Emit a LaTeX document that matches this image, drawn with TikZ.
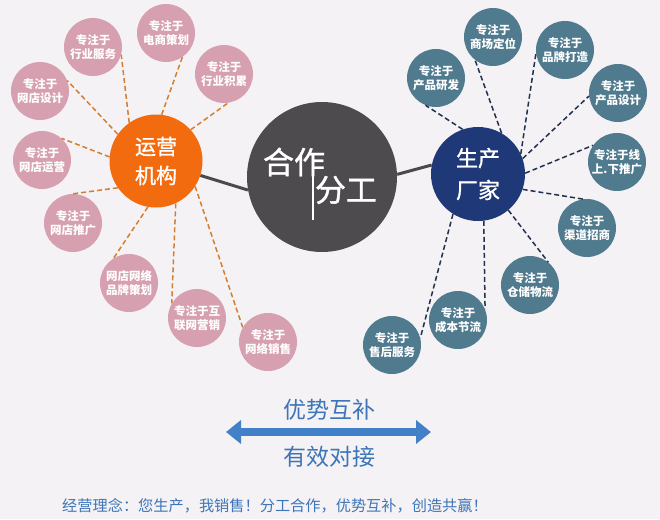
\documentclass[tikz,border=0pt]{standalone}
\usepackage{fontspec}
\setmainfont{Noto Sans CJK SC}
\newfontfamily\medfont[FakeBold=1.2]{Noto Sans CJK SC}
\usetikzlibrary{arrows.meta}
\definecolor{bgc}{RGB}{244,242,244}
\definecolor{pinkc}{RGB}{214,160,176}
\definecolor{tealc}{RGB}{80,122,142}
\definecolor{orgc}{RGB}{242,107,15}
\definecolor{navyc}{RGB}{30,56,120}
\definecolor{midc}{RGB}{77,75,77}
\definecolor{odashc}{RGB}{212,126,50}
\definecolor{ndashc}{RGB}{34,48,82}
\definecolor{linec}{RGB}{74,74,74}
\definecolor{bluec}{RGB}{61,117,184}
\definecolor{arrowc}{RGB}{66,128,200}
\begin{document}
\begin{tikzpicture}[x=1pt,y=-1pt,
  sat/.style={circle, minimum size=58pt, inner sep=0pt, text=white,
    font=\bfseries\fontsize{11.5}{14.5}\selectfont, align=center},
  pinksat/.style={sat, fill=pinkc},
  tealsat/.style={sat, fill=tealc},
  hub/.style={circle, inner sep=0pt, text=white, align=center},
  odash/.style={draw=odashc, line width=1.5pt, dash pattern=on 5pt off 3pt},
  ndash/.style={draw=ndashc, line width=1.5pt, dash pattern=on 5pt off 3pt},
  thick line/.style={draw=linec, line width=3pt},
  bluetext/.style={text=bluec, inner sep=0pt}
]
\fill[bgc] (0,0) rectangle (660,519);
\useasboundingbox (0,0) rectangle (660,519);

% hubs
\node[hub, fill=midc, minimum size=150pt] (mid) at (322,177) {};
\node[hub, fill=orgc, minimum size=93pt, font=\medfont\fontsize{21}{29}\selectfont] (org) at (156,161) {运营\\机构};
\node[hub, fill=navyc, minimum size=94pt, font=\medfont\fontsize{22}{32}\selectfont] (navy) at (478,174) {生产\\厂家};

% central title
\node[text=white, inner sep=0pt, font=\medfont\fontsize{31}{31}\selectfont] (t1) at (294,162) {合作};
\node[text=white, inner sep=0pt, font=\medfont\fontsize{31}{31}\selectfont] (t2) at (346,190) {分工};
\coordinate (v1) at (313,168);
\coordinate (v2) at (313,220);
\draw[white, line width=1.3pt] (v1) -- (v2);

% left satellites
\node[pinksat] (l1) at (93,47) {专注于\\行业服务};
\node[pinksat] (l2) at (166,33) {专注于\\电商策划};
\node[pinksat] (l3) at (224,74) {专注于\\行业积累};
\node[pinksat] (l4) at (40,91) {专注于\\网店设计};
\node[pinksat] (l5) at (42,160) {专注于\\网店运营};
\node[pinksat] (l6) at (73,223) {专注于\\网店推广};
\node[pinksat] (l7) at (129,283) {网店网络\\品牌策划};
\node[pinksat] (l8) at (197,318) {专注于互\\联网营销};
\node[pinksat] (l9) at (268,342) {专注于\\网络销售};

% right satellites
\node[tealsat] (r1) at (436,78) {专注于\\产品研发};
\node[tealsat] (r2) at (493,37) {专注于\\商场定位};
\node[tealsat] (r3) at (565,50) {专注于\\品牌打造};
\node[tealsat] (r4) at (618,93) {专注于\\产品设计};
\node[tealsat] (r5) at (617,162) {专注于线\\上.下推广};
\node[tealsat] (r6) at (587,228) {专注于\\渠道招商};
\node[tealsat] (r7) at (530,285) {专注于\\仓储物流};
\node[tealsat] (r8) at (458,320) {专注于\\成本节流};
\node[tealsat] (r9) at (392,345) {专注于\\售后服务};

% connectors
\draw[thick line] (org.-18) -- (mid.190);
\draw[thick line] (mid.2) -- (navy.169);

\draw[odash] (org.125) -- (l1.-15);
\draw[odash] (org.83) -- (l2.-56);
\draw[odash] (org.42) -- (l3.-82);
\draw[odash] (org.145) -- (l4.21);
\draw[odash] (org.175) -- (l5.48);
\draw[odash] (org.215) -- (l6.90);
\draw[odash] (org.260) -- (l7.122);
\draw[odash] (org.295) -- (l8.150);
\draw[odash] (org.327) -- (l9.150);

\draw[ndash] (navy.109) -- (r1.249);
\draw[ndash] (navy.60) -- (r2.232);
\draw[ndash] (navy.25) -- (r3.186);
\draw[ndash] (navy.19) -- (r4.186);
\draw[ndash] (navy.1) -- (r5.145);
\draw[ndash] (navy.-19) -- (r6.98);
\draw[ndash] (navy.-50) -- (r7.51);
\draw[ndash] (navy.-83) -- (r8.22);
\draw[ndash] (navy.238) -- (r9.14);

% arrow and captions
\coordinate (al) at (226,432);
\coordinate (ar) at (431,432);
\draw[arrowc, line width=7.5pt, {Triangle[width=23pt,length=15pt]}-{Triangle[width=23pt,length=15pt]}] (al) -- (ar);
\node[bluetext, font=\fontsize{23}{23}\selectfont] (c1) at (329,410) {优势互补};
\node[bluetext, font=\fontsize{23}{23}\selectfont] (c2) at (329,457) {有效对接};
\node[bluetext, font=\fontsize{15.2}{15.2}\selectfont] (foot) at (275,506) {经营理念：您生产，我销售！分工合作，优势互补，创造共赢！};
\end{tikzpicture}
\end{document}
